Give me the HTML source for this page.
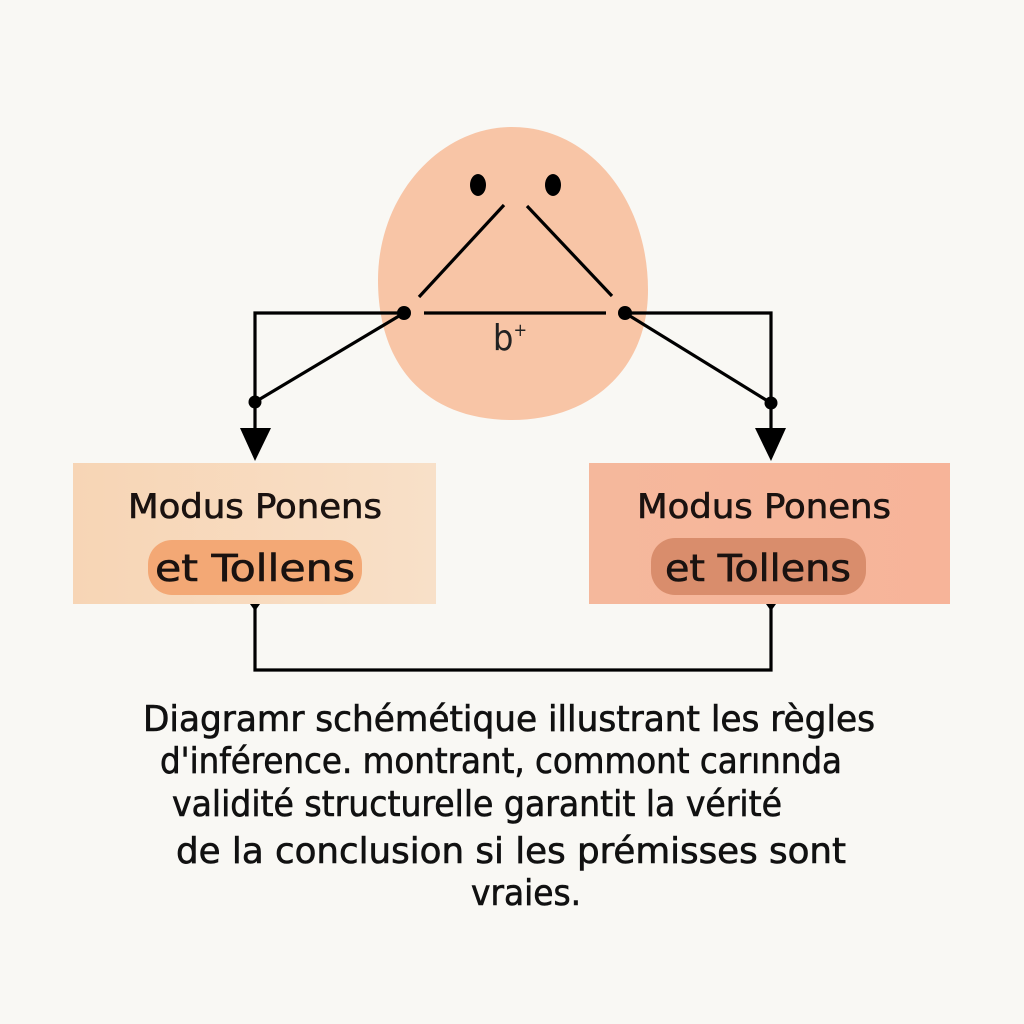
<!DOCTYPE html>
<html><head><meta charset="utf-8"><style>
html,body{margin:0;padding:0;background:#f9f8f4;}
svg{display:block;}
</style></head><body>
<svg width="1024" height="1024" viewBox="0 0 1024 1024" xmlns="http://www.w3.org/2000/svg">
<defs>
<linearGradient id="gl" x1="0" x2="1"><stop offset="0" stop-color="#f7d5b5"/><stop offset="1" stop-color="#f8e0c8"/></linearGradient>
<linearGradient id="gr" x1="0" x2="1"><stop offset="0" stop-color="#f5b89c"/><stop offset="1" stop-color="#f7b499"/></linearGradient>
</defs>
<rect width="1024" height="1024" fill="#f9f8f4"/>
<path d="M512,127 C590,127 648,200 648,290 C648,370 590,420 512,420 C430,420 378,370 378,280 C378,195 440,127 512,127 Z" fill="#f8c5a6"/>
<ellipse cx="478" cy="185" rx="8" ry="11" fill="#000"/>
<ellipse cx="553" cy="185" rx="8" ry="11" fill="#000"/>
<g stroke="#000" stroke-width="3.2" fill="none">
<line x1="504" y1="205" x2="419" y2="297"/>
<line x1="527" y1="206" x2="612" y2="296"/>
<line x1="424" y1="313" x2="606" y2="313"/>
<polyline points="404,313 255,313 255,432"/>
<line x1="404" y1="313" x2="255" y2="402"/>
<polyline points="625,313 771,313 771,432"/>
<line x1="625" y1="313" x2="771" y2="403"/>
<polyline points="255,606 255,670 771,670 771,606"/>
</g>
<g fill="#000">
<circle cx="404" cy="313" r="7"/><circle cx="625" cy="313" r="7"/>
<circle cx="255" cy="402" r="6.5"/><circle cx="771" cy="403" r="6.5"/>
<polygon points="240,428 271,428 255,461"/>
<polygon points="755,428 786,428 771,461"/>
<polygon points="250,604 260,604 255,611"/>
<polygon points="766,604 776,604 771,611"/>
</g>
<text x="510" y="350" font-family="DejaVu Sans Condensed, DejaVu Sans, sans-serif" font-size="36" text-anchor="middle" fill="#222">b<tspan font-size="18" dy="-14">+</tspan></text>
<rect x="73" y="463" width="363" height="141" fill="url(#gl)"/>
<rect x="589" y="463" width="361" height="141" fill="url(#gr)"/>
<rect x="148" y="540" width="214" height="55" rx="24" fill="#f3a875"/>
<rect x="651" y="538" width="215" height="57" rx="24" fill="#d98d6c"/>
<g font-family="DejaVu Sans Condensed, DejaVu Sans, sans-serif" fill="#1a1210" text-anchor="middle" stroke="#1a1210" stroke-width="0.6">
<text x="255" y="518" font-size="34" textLength="254" lengthAdjust="spacingAndGlyphs">Modus Ponens</text>
<text x="255" y="581" font-size="37" textLength="200" lengthAdjust="spacingAndGlyphs">et Tollens</text>
<text x="764" y="518" font-size="34" textLength="254" lengthAdjust="spacingAndGlyphs">Modus Ponens</text>
<text x="758" y="581" font-size="37" textLength="186" lengthAdjust="spacingAndGlyphs">et Tollens</text>
</g>
<g font-family="DejaVu Sans Condensed, DejaVu Sans, sans-serif" fill="#111" stroke="#111" stroke-width="0.6" font-size="36" text-anchor="middle">
<text x="509" y="731" textLength="732" lengthAdjust="spacingAndGlyphs">Diagramr schémétique illustrant les règles</text>
<text x="501" y="773" textLength="682" lengthAdjust="spacingAndGlyphs">d'inférence. montrant, commont carınnda</text>
<text x="477" y="816" textLength="610" lengthAdjust="spacingAndGlyphs">validité structurelle garantit la vérité</text>
<text x="511" y="863" textLength="670" lengthAdjust="spacingAndGlyphs">de la conclusion si les prémisses sont</text>
<text x="526" y="905" textLength="110" lengthAdjust="spacingAndGlyphs">vraies.</text>
</g>
</svg>
</body></html>
